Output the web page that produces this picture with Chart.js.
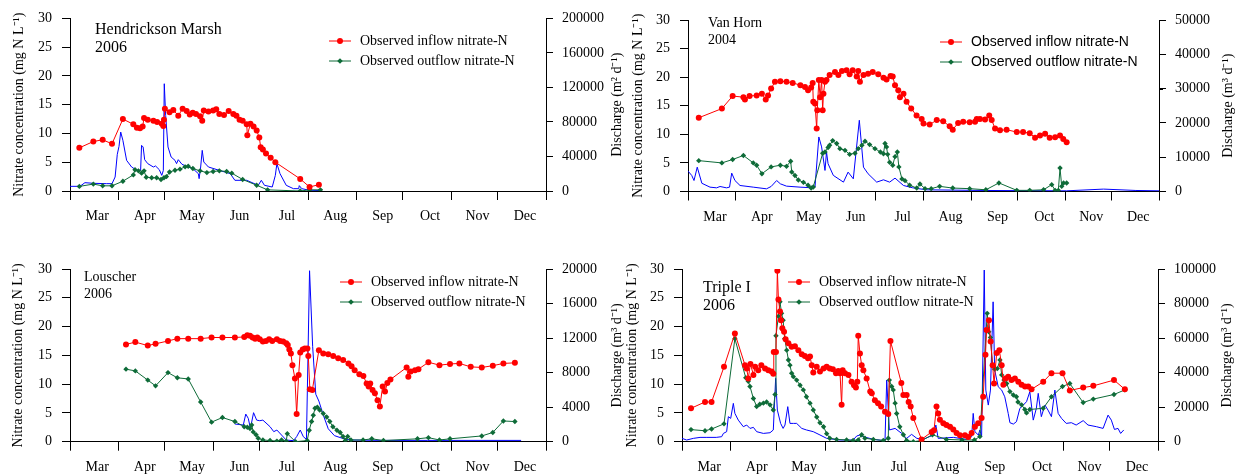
<!DOCTYPE html>
<html>
<head>
<meta charset="utf-8">
<script src="https://cdn.jsdelivr.net/npm/chart.js@4.4.1/dist/chart.umd.min.js"></script>
<style>
  body { margin: 0; background: #fff; width: 1238px; height: 476px; overflow: hidden; position: relative; }
  canvas { position: absolute; }
</style>
</head>
<body>
<canvas id="hm" width="626" height="238" style="left:0;top:0"></canvas>
<canvas id="vh" width="614" height="238" style="left:624px;top:0"></canvas>
<canvas id="lo" width="626" height="238" style="left:0;top:238px"></canvas>
<canvas id="ti" width="614" height="238" style="left:624px;top:238px"></canvas>
<script>
// x values are days after 1 March
var monthNames = ['Mar', 'Apr', 'May', 'Jun', 'Jul', 'Aug', 'Sep', 'Oct', 'Nov', 'Dec'];
var monthStarts = [0, 31, 61, 92, 122, 153, 184, 214, 245, 275, 306];
var concTicks = [0, 5, 10, 15, 20, 25, 30];

// Hendrickson Marsh 2006
var hmInDay = [6,15,21,27,34,40.7,43,45,46.7,47.6,50,53.6,56,59,60,60.4,61,64,66.4,69.6,72.4,75,77,78.9,81,83.6,85,86,89,92,94,96,99,102,105,107,109,111,113.6,114,116,118,120,121.7,122.6,124,126,129,132,148,154,160];
var hmIn = [7.5,8.6,8.9,8.2,12.5,11.6,11.0,10.9,11.2,12.7,12.4,12.2,12.0,11.7,11.3,12.4,14.3,13.7,14.1,13.1,14.3,13.9,13.3,13.6,13.4,13.0,12.2,14.0,13.8,14.0,14.2,13.4,13.2,13.9,13.4,13.1,12.4,12.2,11.6,9.7,11.7,11.2,10.5,9.3,7.6,7.2,6.5,5.8,5.0,2.1,0.7,1.1];
var hmOutDay = [6,15,21,27,34,40.7,41.8,44,46,47.6,49,52.5,55.7,58.5,60.4,62,64,67.5,70.7,74,76,79,83.6,88,92,96,100.7,104,111,120,127,148,154,161];
var hmOut = [0.8,1.2,0.9,0.9,1.7,2.8,3.7,3.5,3.1,3.5,2.4,2.3,2.3,2.0,2.3,2.5,3.3,3.6,3.8,4.2,4.3,3.9,3.5,3.2,3.4,3.5,3.4,3.1,2.0,1.0,0.2,0,0.2,0.2];
var hmQDay = [0,6.4,9.6,15,23.6,27,29,30.4,31.5,32.6,34,36.4,39.6,43,44.6,45.4,46,47,48,50,53.6,55,57.4,59,60,60.6,61.5,63,65,67.5,68.5,69.6,72,75,79,82.5,83,84,85,86,89,96,103,106,113.6,121,123,125,130,132,133,135,139,143.6,147,147.4,149,154,162];
var hmQ = [5400,5400,9650,8900,8500,8500,16200,42500,51700,68300,58700,35500,27800,23900,23200,23900,52900,51000,36300,31700,27800,29000,24700,18100,23900,124300,87600,51000,39400,35500,31700,36300,30900,28600,25900,20100,14300,27800,47100,33600,27800,23900,20100,12400,12400,6600,12400,6600,4600,18100,31700,20100,6600,2700,2700,6200,2700,800,500];

// Van Horn 2004
var vhInDay = [7,22,29,36,37,40,44.6,48,50.5,52,54,56.5,60,64,68,73,76,78,80,81,81.4,82.5,83.6,84,85,85.8,86.8,87.5,88,89,90,92,95.5,97.7,100,103,105,107,109.6,110.6,111.7,114,117,120,123.6,127,129,131.6,133,134.5,136.6,137.7,140,142,145,148.5,151.8,153,157,161.6,165.8,170,172,175.5,178.8,183,186.5,187.6,189.7,193,195.7,197.3,199.5,202.7,207,213.6,217.7,222,225.5,228.7,232,235,238.5,241.7,243.8,246];
var vhIn = [12.9,14.5,16.7,16.5,16.1,16.7,16.8,17.1,16.1,16.8,18.0,19.2,19.3,19.2,19.0,18.6,18.3,17.7,18.2,19.0,15.7,15.4,11.0,14.2,19.5,16.5,19.5,14.2,17.1,19.2,19.5,20.4,20.9,20.4,21.1,21.2,20.5,21.2,20.1,21.1,19.2,20.4,20.6,20.9,20.5,19.9,19.6,20.2,20.1,18.6,17.7,16.5,17.1,15.7,14.5,13.3,12.7,11.9,11.7,12.5,12.3,11.4,10.8,12.0,12.2,12.1,12.2,12.7,12.7,12.6,13.3,12.5,11.0,10.7,10.8,10.4,10.4,10.2,9.4,9.8,10.1,9.4,9.5,9.8,9.2,8.6];
var vhOutDay = [7,22,29,36,42.4,44.6,48,54,60,64,66.7,67.4,69.5,71.7,75,78,80,81.4,87.5,89,91,92,94,96.6,98.7,102,105,108.5,110.6,113,115,118,121.5,125,127,128,129,129.7,131,133,134.5,136,137,139,141,144,148.6,150.7,154,158,163.5,172,183,193.5,202,213.6,222,231,236.3,238.5,240.6,241.7,242.8,244,246];
var vhOut = [5.4,5.0,5.6,6.3,5.0,4.6,3.1,4.3,4.6,4.4,5.3,3.4,2.8,2.0,1.6,1.1,0.6,0.8,6.7,6.9,7.7,8.1,8.9,8.4,7.5,7.2,6.5,6.7,7.5,8.1,8.8,8.2,7.5,6.9,6.6,8.4,7.8,6.5,5.1,4.6,6.1,6.9,4.3,2.2,1.9,1.1,0.6,1.3,0.5,0.5,0.9,0.6,0.5,0.3,1.5,0.2,0.2,0.3,1.2,0.2,0.2,4.1,0.9,1.5,1.5];
var vhQDay = [0,2.4,3.9,6,9,14.3,18.6,20.8,25,27,28.4,30.5,33.8,42.4,51,54,57.6,60,64,72.8,81.4,82.5,85,86.8,89,90,91,94.4,101,104,107.4,111.3,114,117,122.6,127,131,134.5,140,146,155,193,246,270,291,306];
var vhQ = [5950,4700,3200,7100,2400,1270,1070,1460,1070,1270,5360,3200,1750,1270,780,1460,3200,2240,1560,1270,1070,1270,15900,13000,6140,11500,8100,4700,2730,5650,3700,20770,7100,5170,2730,3410,2730,3900,1750,1070,490,300,200,700,300,200];

// Louscher 2006
var loInDay = [36,42,50,55,63,69,76,84,91,98,106,112,114,115.7,117.4,119,120.4,122,124,126,128,130,133,135,137,139,140,141,142,143,144.6,145.7,147,148,149.6,151,152.6,153.2,154.2,155.8,160,162.8,166,169.2,172.4,175.6,179,181,183,186,188.6,190.7,192,193,194.5,196,197.7,199.2,201,202.5,204,206,216.4,217.5,219,221.8,224,230.4,237.5,244.3,250.3,257.6,264.7,271.8,278.6,286];
var loIn = [16.9,17.3,16.7,17.0,17.5,17.9,17.9,17.9,18.1,18.1,18.1,18.2,18.5,18.4,18.1,17.9,18.1,17.8,17.4,17.5,17.8,17.5,17.8,17.5,17.4,17.1,16.8,16.0,15.3,13.3,11.0,4.8,11.6,15.5,16.0,16.2,16.2,14.9,9.1,9.0,15.9,15.3,15.2,14.9,14.5,14.2,13.6,13.1,12.4,11.7,11.4,10.1,9.6,10.1,9.0,8.4,7.2,6.1,9.6,8.7,10.2,10.8,12.9,11.3,12.2,12.4,12.6,13.8,13.3,13.5,13.6,13.0,12.9,13.2,13.6,13.7];
var loOutDay = [36,42,50,55,63,69,76,84,91,98,106,112,114,115.7,116.8,117.8,119.6,121,124,128.6,133,136,139,139.7,145,152.5,153.8,155.3,156.4,157.5,159,160.5,162.8,165,167,169,171.6,173.7,175.5,177,178.5,180.6,188.4,194,201.5,223.4,230.4,237.5,244.3,264.7,271.8,278.6,286];
var loOut = [12.6,12.3,10.7,9.7,12.0,11.1,10.9,6.9,3.4,4.2,3.5,2.6,2.5,2.3,2.9,1.7,1.2,0.6,0.3,0.2,0.1,0.3,0.1,1.4,0,0.2,2.0,3.5,4.6,5.8,6.0,5.5,4.9,4.3,3.5,2.6,2.0,1.6,0.9,0.2,0.9,0.3,0.3,0.5,0.2,0.5,0.7,0.3,0.5,1.0,1.6,3.6,3.5];
var loQDay = [106,111.4,113,114.6,116,118,120,122,124,128.6,131,133,136,139,143.6,145.7,148,150,152,154,156,158,160,163,166,170,175,180,200,230,290];
var loQ = [2050,1930,3200,2700,1540,3360,2500,2430,2500,1740,1160,1350,770,190,120,580,1350,580,270,19800,11000,5500,4700,3000,1500,700,400,200,150,150,150];

// Triple I 2006
var tiInDay = [5.8,14.8,19,27,34,40.5,41.6,42.6,44,45.9,47,49,51,53.4,55.5,57.6,58.7,59,60.4,61.3,62,63,63.6,64.5,65.6,66.6,68.4,70.5,72.6,74.8,77,79,81,82.3,83.4,84.4,86.6,88.7,91,93,95,97,99,100.5,101.6,102.6,103.3,104.8,107,109,110.6,111.8,112.7,113.3,114.4,115.5,116.6,118.7,121,122,124,126,128,130.5,132.6,134,141,142.3,144.4,145.7,147,148.7,154,160.5,162,163.6,164.7,165.8,168,170,172.3,174.4,176.5,178.7,181.9,184,186.2,188.3,190.4,192.6,193.6,195.1,195.8,197.3,198.4,199.7,200.6,202.3,204,205.5,206.6,208,209.7,211.8,214,216.2,218.3,220.5,222.6,224.7,232.2,237.5,244.6,249.3,257.9,264.4,277.7,284.7];
var tiIn = [5.8,6.9,6.9,13.0,18.8,13.3,12.7,11.0,13.5,11.6,13.0,12.4,13.3,12.7,12.4,12.2,11.8,15.6,15.6,29.7,24.7,22.6,21.1,19.7,19.1,17.8,17.1,16.5,16.6,15.9,15.2,14.9,14.5,14.8,13.3,12.0,13.0,12.2,12.7,13.0,12.7,12.6,11.9,12.3,11.9,6.4,12.4,11.9,11.6,10.4,9.8,9.4,10.4,18.4,15.3,13.3,12.4,11.0,8.7,8.4,7.2,6.7,6.1,5.2,4.8,17.5,10.2,8.1,8.1,6.9,6.1,4.1,0.4,1.7,2.0,6.1,4.9,3.8,3.2,2.9,2.6,2.1,1.5,1.1,1.1,0.8,1.5,2.6,3.2,4.1,7.8,15.1,19.4,21.1,17.4,13.3,10.1,15.4,15.9,13.3,9.9,11.0,11.3,10.7,11.0,10.4,9.9,9.6,9.6,9.1,10.4,11.9,11.9,8.9,9.4,9.7,10.7,9.1];
var tiOutDay = [5.8,14.8,19,27,34,41,42.6,43.7,45.9,48,50,52.3,54.4,56.6,58.7,59.8,60.4,62,63,64,65,66,67.3,68.4,69.4,70.5,71.6,73.7,75.9,78,80,82.3,84.4,86.6,88.7,91,93,95,99.4,105.8,110,113.3,115.5,117.6,123,129.4,132.6,133.3,134.8,135.8,137,138,140,142.3,144.4,148.7,154,161,170,180,188,191.5,196.2,197.2,198.3,199.6,201,202.7,204.4,205.5,207,208.7,210.8,213,215,216,218.3,220.4,221.5,223.6,232.2,237.5,244.6,249.3,257.9,264.4,277.7,284.7];
var tiOut = [2.1,1.9,2.2,3.1,17.9,11.1,10.5,9.6,7.5,6.1,6.5,6.7,6.9,6.4,5.5,8.2,18.4,21.8,24.3,22.3,21.1,17.9,15.9,14.2,13.3,11.9,11.3,10.7,9.8,9.0,7.8,6.7,5.5,4.3,3.3,2.6,1.4,0.6,0.4,0.3,0.2,0.3,1.2,0.6,0.4,0.2,0.6,10.7,9.6,9.0,6.7,4.9,2.6,1.2,0.2,0,0.2,1.2,0.4,0.3,0.3,0.9,22.3,19.1,18.1,13.3,12.6,12.7,14.2,11.6,10.7,10.1,8.7,8.1,7.8,6.9,6.4,5.6,5.0,5.6,5.8,7.8,9.6,10.1,6.8,7.4,8.2,9.0];
var tiQDay = [0,3,7.3,11.6,16,22,25.5,26.6,28.7,29.8,31.3,33,34,36.2,39.4,41.6,43.7,45.9,48,52.3,56.6,58.7,60.2,61.3,63.4,65,66.2,68,69.4,71.6,73.7,77,80,84.4,88.7,93,101.6,110,112.3,114.4,116.6,123,130.5,131.6,133.3,137,141.2,144.4,147.6,151,155,161.5,163.2,164.7,174.4,183,186.2,187.2,188.3,190.5,191.5,192.6,194.3,195.3,196.9,198.3,200,201,203.3,205.5,207.5,209.7,210.8,213,215,217.2,219.4,221.5,223.6,225.8,227.8,229,231,233.3,235.3,237.5,239.7,241.8,244,247,250.3,253.4,257.9,261,266.4,270.7,273.9,276,278,280.3,282,284];
var tiQ = [1930,970,1930,2500,2500,2500,2900,4800,5800,14500,13500,22200,16400,12500,8700,9650,7700,8300,5800,4800,5200,6800,36700,18300,10600,7700,9650,20300,10600,10600,10600,7700,6800,5800,3900,1930,970,970,3300,3900,2900,1350,580,35700,6800,7700,4800,1930,4250,1930,1350,3860,9650,1930,2500,1350,2900,16400,5800,3860,6800,2900,99400,29900,21200,29900,81000,41500,31800,29900,26000,16400,11000,10200,11600,19300,21200,23200,28950,12500,19300,28000,14500,21200,18300,14500,29900,16400,13500,10600,11000,9650,12200,9650,8700,7700,15400,12500,7100,7700,4800,6800];

var serif = "'Liberation Serif', 'Times New Roman', serif";
var sans = "'Liberation Sans', Arial, sans-serif";
var red = '#ff0000';
var green = '#0e6b38';
var blue = '#0000ff';

var labelDays = monthStarts.slice(0, 10).map(function (d, i) { return (d + monthStarts[i + 1]) / 2 + 2; });

function pts(xs, ys) {
    return xs.map(function (x, i) { return { x: x, y: ys[i] }; });
}

// site name, legend, right-hand axis title and minor ticks
var panelText = {
    id: 'panelText',
    afterDraw: function (chart, args, o) {
        var ctx = chart.ctx;
        var area = chart.chartArea;
        var yR = chart.scales.yR;
        ctx.save();
        ctx.fillStyle = '#000';
        ctx.strokeStyle = '#000';
        ctx.lineWidth = 1;

        // short minor ticks between the labelled discharge ticks
        yR.ticks.forEach(function (t, i) {
            if (i % 2 === 1) {
                var py = Math.round(yR.getPixelForValue(t.value)) + 0.5;
                ctx.beginPath();
                ctx.moveTo(area.right, py);
                ctx.lineTo(area.right + 4, py);
                ctx.stroke();
            }
        });

        ctx.save();
        ctx.translate(o.rtX, (area.top + area.bottom) / 2);
        ctx.rotate(-Math.PI / 2);
        ctx.font = '14px ' + serif;
        ctx.textAlign = 'center';
        ctx.textBaseline = 'middle';
        ctx.fillText(o.rtText, 0, 0);
        ctx.restore();

        ctx.textBaseline = 'alphabetic';
        ctx.font = o.siteSize + 'px ' + serif;
        o.site.forEach(function (t, i) { ctx.fillText(t, o.siteX, o.siteY[i]); });

        ctx.font = '14px ' + o.legFamily;
        ctx.textBaseline = 'middle';
        [[red, 'circle', 'Observed inflow nitrate-N'], [green, 'diamond', 'Observed outflow nitrate-N']].forEach(function (it, i) {
            var y = o.legY + i * 20;
            ctx.strokeStyle = it[0];
            ctx.fillStyle = it[0];
            ctx.beginPath();
            ctx.moveTo(o.legX, y);
            ctx.lineTo(o.legX + 22, y);
            ctx.stroke();
            var cx = o.legX + 11;
            ctx.beginPath();
            if (it[1] === 'circle') {
                ctx.arc(cx, y, 3, 0, Math.PI * 2);
            } else {
                ctx.moveTo(cx, y - 2.8); ctx.lineTo(cx + 2.8, y); ctx.lineTo(cx, y + 2.8); ctx.lineTo(cx - 2.8, y);
                ctx.closePath();
            }
            ctx.fill();
            ctx.fillStyle = '#000';
            ctx.fillText(it[2], o.legX + 31, y);
        });
        ctx.restore();
    }
};

function makePanel(id, p) {
    var el = document.getElementById(id);
    var W = el.width, H = el.height;
    var tickFont = { family: serif, size: 14 };
    p.text.rtText = 'Discharge (m' + p.qUnit + ' d\u207B\u00B9)';
    return new Chart(el.getContext('2d'), {
        type: 'line',
        data: {
            datasets: [{
                label: 'Discharge',
                data: pts(p.qDay, p.q),
                yAxisID: 'yR',
                borderColor: blue,
                borderWidth: 1,
                pointRadius: 0,
                order: 3
            }, {
                label: 'Observed outflow nitrate-N',
                data: pts(p.outDay, p.out),
                yAxisID: 'y',
                borderColor: green,
                backgroundColor: green,
                borderWidth: 1,
                pointStyle: 'rectRot',
                pointRadius: 2.7,
                pointBorderWidth: 0,
                order: 2
            }, {
                label: 'Observed inflow nitrate-N',
                data: pts(p.inDay, p.inv),
                yAxisID: 'y',
                borderColor: red,
                backgroundColor: red,
                borderWidth: 1,
                pointRadius: 3,
                pointBorderWidth: 0,
                order: 1
            }]
        },
        options: {
            responsive: false,
            animation: false,
            layout: { padding: { top: p.top, left: 0, right: 0, bottom: 0 } },
            plugins: {
                legend: { display: false },
                tooltip: { enabled: false },
                panelText: p.text
            },
            scales: {
                x: {
                    type: 'linear',
                    min: 0,
                    max: 306,
                    afterBuildTicks: function (s) {
                        s.ticks = monthStarts.concat(labelDays).sort(function (a, b) { return a - b; })
                            .map(function (v) { return { value: v }; });
                    },
                    afterFit: function (s) { s.height = H - p.bottom; },
                    ticks: {
                        autoSkip: false,
                        maxRotation: 0,
                        padding: 8,
                        color: '#000',
                        font: tickFont,
                        callback: function (v) {
                            var k = labelDays.indexOf(v);
                            return k >= 0 ? monthNames[k] : '';
                        }
                    },
                    grid: {
                        drawOnChartArea: false,
                        tickLength: 9,
                        color: function (c) {
                            return c.tick && monthStarts.indexOf(c.tick.value) >= 0 ? '#000' : 'rgba(0,0,0,0)';
                        }
                    },
                    border: { color: '#000' }
                },
                y: {
                    position: 'left',
                    min: 0,
                    max: 30,
                    afterBuildTicks: function (s) {
                        s.ticks = concTicks.map(function (v) { return { value: v }; });
                    },
                    afterFit: function (s) { s.width = p.left; },
                    ticks: { padding: 10, color: '#000', font: tickFont },
                    grid: { drawOnChartArea: false, tickLength: 8, color: '#000' },
                    border: { color: '#000' },
                    title: {
                        display: true,
                        text: 'Nitrate concentration (mg N L\u207B\u00B9)',
                        color: '#000',
                        font: { family: serif, size: 14 },
                        padding: { top: p.ltPad, bottom: 0 }
                    }
                },
                yR: {
                    position: 'right',
                    min: 0,
                    max: p.qMax,
                    afterBuildTicks: function (s) {
                        var t = [];
                        for (var i = 0; i <= 10; i++) t.push({ value: p.qMax * i / 10 });
                        s.ticks = t;
                    },
                    afterFit: function (s) { s.width = W - p.right; },
                    ticks: {
                        padding: 9,
                        color: '#000',
                        font: tickFont,
                        callback: function (v, i) { return i % 2 === 0 ? String(v) : ''; }
                    },
                    grid: {
                        drawOnChartArea: false,
                        tickLength: 7,
                        color: function (c) { return c.index % 2 === 0 ? '#000' : 'rgba(0,0,0,0)'; }
                    },
                    border: { color: '#000' }
                }
            }
        },
        plugins: [panelText]
    });
}

makePanel('hm', {
    inDay: hmInDay, inv: hmIn, outDay: hmOutDay, out: hmOut, qDay: hmQDay, q: hmQ,
    qMax: 200000, qUnit: '\u00B2',
    left: 70, right: 546, top: 18, bottom: 191, ltPad: 10.6,
    text: { site: ['Hendrickson Marsh', '2006'], siteSize: 16, siteX: 95, siteY: [34, 52],
            legFamily: serif, legX: 329, legY: 41, rtX: 617 }
});

makePanel('vh', {
    inDay: vhInDay, inv: vhIn, outDay: vhOutDay, out: vhOut, qDay: vhQDay, q: vhQ,
    qMax: 50000, qUnit: '\u00B3',
    left: 64, right: 535, top: 20, bottom: 191.5, ltPad: 5.6,
    text: { site: ['Van Horn', '2004'], siteSize: 14, siteX: 84, siteY: [27, 44],
            legFamily: sans, legX: 316, legY: 42, rtX: 604 }
});

makePanel('lo', {
    inDay: loInDay, inv: loIn, outDay: loOutDay, out: loOut, qDay: loQDay, q: loQ,
    qMax: 20000, qUnit: '\u00B3',
    left: 70, right: 546, top: 31, bottom: 203.7, ltPad: 9.6,
    text: { site: ['Louscher', '2006'], siteSize: 14, siteX: 84, siteY: [43, 60],
            legFamily: serif, legX: 340, legY: 44, rtX: 617 }
});

makePanel('ti', {
    inDay: tiInDay, inv: tiIn, outDay: tiOutDay, out: tiOut, qDay: tiQDay, q: tiQ,
    qMax: 100000, qUnit: '\u00B3',
    left: 58, right: 534, top: 31, bottom: 203.7, ltPad: 0,
    text: { site: ['Triple I', '2006'], siteSize: 16, siteX: 79, siteY: [54, 72],
            legFamily: serif, legX: 164, legY: 44, rtX: 603 }
});
</script>
</body>
</html>
